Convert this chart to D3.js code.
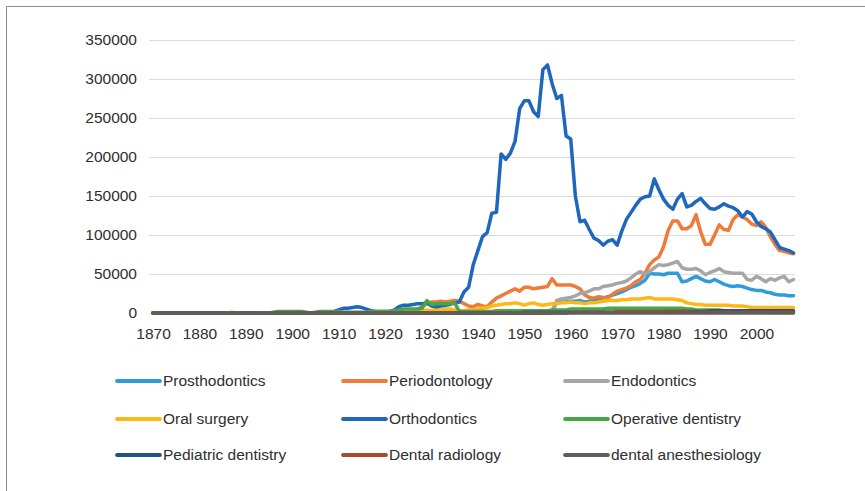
<!DOCTYPE html>
<html>
<head>
<meta charset="utf-8">
<script src="https://cdn.jsdelivr.net/npm/d3@7"></script>
<style>
  html, body { margin: 0; padding: 0; background: #fff; }
  svg { display: block; font-family: "Liberation Sans", Arial, sans-serif; }
</style>
</head>
<body>
<svg id="chart" width="865" height="491"></svg>
<script>
// ---- categories ----
const firstYear = 1870;
const lastYear = 2008;
const years = d3.range(firstYear, lastYear + 1);
const xTickLabels = ["1870","1880","1890","1900","1910","1920","1930","1940","1950","1960","1970","1980","1990","2000"];
const yTickValues = [0, 50000, 100000, 150000, 200000, 250000, 300000, 350000];

const seriesNames = ["Prosthodontics","Periodontology","Endodontics","Oral surgery","Orthodontics","Operative dentistry","Pediatric dentistry","Dental radiology","dental anesthesiology"];
const seriesColors = ["#2f9bd8","#f07a38","#a6a6a6","#fdb813","#1f67bd","#45a843","#1c5485","#a84a2c","#5e5e5e"];

// ---- series values, one per year 1870..2008 ----
// each row = one decade (1870-1879, 1880-1889, ...)
const prosthodontics = [
0,0,0,0,0,0,0,0,0,0,
0,0,0,0,0,0,0,0,0,0,
0,0,0,0,0,0,0,0,0,0,
0,0,0,0,0,0,0,0,0,0,
0,0,0,0,0,0,0,0,0,0,
0,0,0,0,0,0,0,0,0,0,
1000,1000,1000,1000,1000,1000,1000,1000,1000,1000,
1000,1000,1000,1000,1000,1000,1000,1000,1000,1000,
2000,2000,2000,2000,2000,2000,3000,13000,14000,14000,
15000,15000,16000,14000,15000,16000,17000,19000,21000,23000,
25000,27000,30000,33000,35000,38000,42000,51000,50000,50000,
49000,51000,51000,51000,40000,41000,44000,47000,44000,41000,
40000,43000,40000,37000,35000,34000,35000,34000,32000,30000,
29000,29000,27000,26000,24000,23000,23000,22000,22000];

const periodontology = [
0,0,0,0,0,0,0,0,0,0,
0,0,0,0,0,0,0,0,0,0,
0,0,0,0,0,0,0,0,0,0,
0,0,0,0,0,0,0,0,0,0,
0,0,0,0,0,0,0,0,0,0,
0,0,0,0,1000,2000,3000,5000,8000,12000,
14000,14000,15000,14000,15000,16000,15000,12000,9000,8000,
11000,9000,8000,14000,19000,22000,25000,28000,31000,28000,
33000,33000,31000,32000,33000,34000,44000,36000,36000,36000,
36000,34000,31000,23000,20000,19000,21000,20000,19000,24000,
28000,30000,32000,35000,40000,43000,51000,62000,68000,72000,
85000,106000,118000,118000,108000,108000,112000,126000,104000,88000,
88000,100000,113000,107000,106000,120000,126000,123000,120000,114000,
112000,117000,110000,98000,88000,80000,79000,77000,76000];

const endodontics = [
0,0,0,0,0,0,0,0,0,0,
0,0,0,0,0,0,0,0,0,0,
0,0,0,0,0,0,0,0,0,0,
0,0,0,0,0,0,0,0,0,0,
0,0,0,0,0,0,0,0,0,0,
0,0,0,0,0,0,0,0,0,0,
0,0,0,0,0,0,0,0,0,0,
0,0,0,0,0,0,0,0,0,0,
0,0,0,0,0,0,3000,16000,18000,19000,
20000,22000,25000,26000,28000,31000,31000,34000,35000,36000,
38000,39000,41000,45000,50000,53000,50000,53000,58000,62000,
61000,62000,64000,66000,58000,56000,56000,57000,54000,49000,
52000,54000,57000,53000,52000,51000,51000,51000,43000,42000,
47000,44000,40000,44000,42000,45000,47000,40000,43000];

const oralSurgery = [
0,0,0,0,0,0,0,0,0,0,
0,0,0,0,0,0,0,1000,0,0,
0,0,0,0,0,0,0,0,0,0,
0,0,0,0,0,0,0,0,0,0,
0,0,0,0,0,0,0,0,0,0,
0,0,0,0,2000,2000,2000,2000,2000,4000,
3000,5000,4000,5000,5000,4000,3000,3000,4000,4000,
5000,6000,7000,9000,10000,11000,12000,12000,13000,12000,
10000,12000,13000,11000,10000,11000,12000,12000,13000,13000,
14000,13000,13000,12000,13000,13000,14000,15000,16000,16000,
16000,17000,17000,18000,18000,18000,19000,20000,18000,18000,
18000,18000,18000,17000,16000,13000,12000,11000,11000,10000,
10000,10000,10000,10000,10000,9000,9000,9000,8000,7000,
7000,7000,7000,7000,7000,7000,7000,7000,7000];

const orthodontics = [
0,0,0,0,0,0,0,0,0,0,
0,0,0,0,0,0,0,0,0,0,
0,0,0,0,0,0,0,0,0,0,
0,0,0,0,0,0,0,0,1000,2000,
4000,6000,6000,7000,8000,7000,5000,3000,2000,2000,
2000,2000,4000,8000,10000,10000,11000,12000,12000,13000,
9000,8000,9000,10000,11000,13000,14000,27000,33000,62000,
80000,98000,103000,128000,129000,204000,197000,205000,220000,262000,
272000,272000,258000,252000,312000,318000,294000,275000,279000,227000,
223000,150000,117000,119000,107000,96000,93000,87000,92000,94000,
87000,105000,120000,129000,138000,146000,149000,150000,172000,158000,
146000,138000,133000,146000,153000,136000,138000,143000,147000,140000,
134000,133000,136000,140000,137000,135000,131000,123000,130000,127000,
117000,111000,108000,104000,94000,84000,82000,80000,77000];

const operativeDentistry = [
0,0,0,0,0,0,0,0,0,0,
0,0,0,0,0,0,0,0,0,0,
0,0,0,0,0,0,1000,2000,2000,2000,
2000,2000,2000,1000,0,1000,2000,2000,2000,2000,
2000,1000,1000,1000,1000,1000,1000,2000,2000,2000,
2000,2000,3000,4000,5000,5000,5000,5000,6000,16000,
11000,12000,12000,12000,12000,13000,2000,2000,2000,2000,
2000,2000,2000,2000,3000,3000,3000,3000,3000,3000,
3000,3000,3000,3000,3000,3000,4000,4000,4000,4000,
5000,5000,5000,5000,5000,5000,5000,5000,6000,6000,
6000,6000,6000,6000,6000,6000,6000,6000,6000,6000,
6000,6000,6000,6000,6000,5000,5000,4000,4000,4000,
4000,4000,4000,3000,3000,3000,3000,3000,2000,2000,
2000,2000,2000,2000,2000,2000,2000,2000,2000];

const pediatricDentistry = [
0,0,0,0,0,0,0,0,0,0,
0,0,0,0,0,0,0,0,0,0,
0,0,0,0,0,0,0,0,0,0,
0,0,0,0,0,0,0,0,0,0,
0,0,0,0,0,0,0,0,0,0,
0,0,0,0,0,0,0,0,0,0,
0,0,0,0,0,0,0,0,0,0,
0,0,0,0,0,0,0,0,0,0,
1000,1000,1000,1000,1000,1000,1000,1000,1000,1000,
1000,1000,1000,1000,1000,1000,1000,1000,1000,1000,
1000,1000,1000,1000,1000,1000,1000,1000,1000,1000,
1000,2000,2000,2000,2000,2000,2000,2000,2000,2000,
3000,3000,3000,3000,3000,3000,3000,3000,3000,3000,
3000,3000,3000,3000,3000,3000,3000,3000,3000];

const dentalRadiology = [
0,0,0,0,0,0,0,0,0,0,
0,0,0,0,0,0,0,0,0,0,
0,0,0,0,0,0,0,0,0,0,
0,0,0,0,0,0,0,0,0,0,
0,0,0,0,0,0,0,0,0,0,
0,0,0,0,0,0,0,0,0,0,
0,0,0,0,0,0,0,0,0,0,
0,0,0,0,0,0,0,0,0,0,
0,0,0,0,0,0,0,0,0,0,
1000,1000,1000,1000,1000,1000,1000,1000,1000,1000,
2000,2000,2000,2000,2000,2000,2000,2000,2000,2000,
2000,2000,2000,2000,2000,2000,1000,1000,1000,1000,
1000,1000,1000,1000,1000,1000,1000,1000,1000,1000,
1000,1000,1000,1000,1000,1000,1000,1000,1000];

const dentalAnesthesiology = [
0,0,0,0,0,0,0,0,0,0,
0,0,0,0,0,0,0,0,0,0,
0,0,0,0,0,0,0,0,0,0,
0,0,0,0,0,0,0,0,0,0,
0,0,0,0,0,0,0,0,0,0,
0,0,0,0,0,0,0,0,0,0,
0,0,0,0,0,0,0,0,0,0,
0,0,0,0,0,0,0,0,0,0,
0,0,0,0,0,0,0,0,0,0,
0,0,0,0,0,0,0,0,0,0,
0,0,0,0,0,0,0,0,0,0,
0,0,0,0,0,0,0,0,0,0,
0,0,0,0,0,0,0,0,0,0,
0,0,0,0,0,0,0,0,0];

const seriesValues = [prosthodontics, periodontology, endodontics, oralSurgery, orthodontics,
  operativeDentistry, pediatricDentistry, dentalRadiology, dentalAnesthesiology];

// ---- drawing ----
const svg = d3.select("#chart");
const W = 865, H = 491;
const plot = { left: 149, right: 795, top: 40, bottom: 313 };

// frame (left and top edges)
svg.append("line").attr("x1", 6.5).attr("y1", 6.5).attr("x2", W).attr("y2", 6.5)
  .attr("stroke", "#8a8a8a").attr("stroke-width", 1);
svg.append("line").attr("x1", 6.5).attr("y1", 6.5).attr("x2", 6.5).attr("y2", H)
  .attr("stroke", "#8a8a8a").attr("stroke-width", 1);

const x = d3.scalePoint().domain(years).range([153, 793.5]);
const y = d3.scaleLinear().domain([0, 350000]).range([plot.bottom, plot.top]);

// gridlines
svg.append("g").selectAll("line").data(yTickValues).join("line")
  .attr("x1", plot.left).attr("x2", plot.right)
  .attr("y1", d => Math.round(y(d)) + 0.5).attr("y2", d => Math.round(y(d)) + 0.5)
  .attr("stroke", "#dcdcdc").attr("stroke-width", 1);

// y axis labels
const yAxis = d3.axisLeft(y).tickValues(yTickValues).tickSize(0).tickPadding(0).tickFormat(d3.format("d"));
const gy = svg.append("g").attr("transform", `translate(137,0)`).call(yAxis);
gy.select(".domain").remove();
gy.selectAll("text").attr("font-size", "15.5px").attr("fill", "#2e2e2e").attr("font-family", "Liberation Sans, Arial, sans-serif");

// x axis labels
const xAxis = d3.axisBottom(x).tickValues(xTickLabels.map(Number)).tickSize(0).tickPadding(0).tickFormat((d, i) => xTickLabels[i]);
const gx = svg.append("g").attr("transform", `translate(0,${plot.bottom + 15})`).call(xAxis);
gx.select(".domain").remove();
gx.selectAll("text").attr("font-size", "15.5px").attr("fill", "#2e2e2e").attr("font-family", "Liberation Sans, Arial, sans-serif");

// lines
const line = d3.line().x((d, i) => x(years[i])).y(d => y(d)).curve(d3.curveLinear);
svg.append("g").selectAll("path").data(seriesValues).join("path")
  .attr("d", d => line(d))
  .attr("fill", "none")
  .attr("stroke", (d, i) => seriesColors[i])
  .attr("stroke-width", 3.5)
  .attr("stroke-linejoin", "round")
  .attr("stroke-linecap", "round");

// legend
const legendCols = [117, 343, 565];
const legendRows = [381, 419, 455];
const lg = svg.append("g").selectAll("g").data(seriesNames).join("g")
  .attr("transform", (d, i) => `translate(${legendCols[i % 3]},${legendRows[Math.floor(i / 3)]})`);
lg.append("line").attr("x1", 0).attr("x2", 43).attr("y1", 0).attr("y2", 0)
  .attr("stroke", (d, i) => seriesColors[i]).attr("stroke-width", 3.8).attr("stroke-linecap", "round");
lg.append("text").attr("x", 46).attr("y", 0).attr("dy", "0.35em")
  .attr("font-size", "15.5px").attr("fill", "#2e2e2e").text(d => d);
</script>
</body>
</html>
